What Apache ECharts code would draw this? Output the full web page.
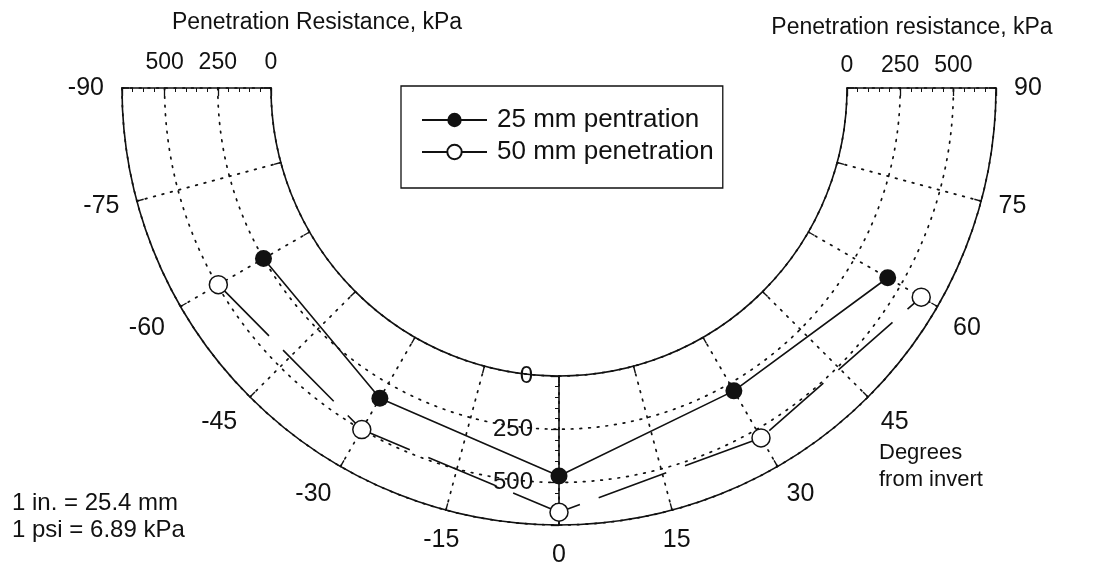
<!DOCTYPE html>
<html><head><meta charset="utf-8">
<script src="https://cdn.jsdelivr.net/npm/echarts@6/dist/echarts.min.js"></script>
<style>html,body{margin:0;padding:0;background:#fff}#c{width:1100px;height:567px}</style>
</head><body><div id="c"></div>
<script>
// ---- data ----
const angles = [-60, -30, 0, 30, 60];            // degrees from invert
const pen25 = [250, 330, 470, 290, 430];         // kPa, 25 mm penetration
const pen50 = [495, 500, 640, 545, 612];         // kPa, 50 mm penetration
const seriesNames = ['25 mm pentration', '50 mm penetration'];
const radiusTicks = [0, 250, 500];
const angleMin = -90, angleMax = 90, angleStep = 15;
const radiusMin = 0, radiusMax = 700, radiusStep = 250;

// ---- style ----
const C = [559, 88], R0 = 288, R1 = 437;
const FONT = '"Liberation Sans", Arial, sans-serif';
const INK = '#111111';
const solid = { color: INK, width: 1.6 };
const dots = { color: INK, width: 1.7, type: [1.7, 7], cap: 'round' };

const chart = echarts.init(document.getElementById('c'), null, { renderer: 'canvas' });

const baseAngle = { min: angleMin, max: angleMax, interval: angleStep, startAngle: 180, endAngle: 360, clockwise: false };
const hiddenAngle = (start) => ({ show: false, min: 0, max: 360, startAngle: start });
const edgeRadius = (idx, flip) => ({
  polarIndex: idx, min: radiusMin, max: radiusMax, interval: radiusStep,
  axisLine: { show: true, lineStyle: solid },
  axisTick: { show: true, length: flip ? -8 : 8, lineStyle: { color: INK, width: 1.3 } },
  minorTick: { show: true, splitNumber: 5, length: flip ? -4 : 4, lineStyle: { color: INK, width: 1 } },
  axisLabel: { show: false },
  splitLine: { show: false }
});

const labelSeries = (angle, pos, dist, size) => ({
  type: 'scatter', coordinateSystem: 'polar', polarIndex: 0, silent: true,
  symbolSize: 0, z: 20,
  itemStyle: { opacity: 1 },
  data: radiusTicks.map(v => [v, angle]),
  label: { show: true, position: pos, distance: dist, formatter: p => String(p.value[0]),
           fontSize: size, color: INK, opacity: 1, fontFamily: FONT }
});

chart.setOption({
  animation: false,
  backgroundColor: '#fff',
  polar: [
    { center: C, radius: [R0, R1] },
    { center: C, radius: [R0, R1] },
    { center: C, radius: [R0, R1] },
    { center: C, radius: [0, R1] },
    { center: C, radius: [0, R0] }
  ],
  angleAxis: [
    Object.assign({ polarIndex: 0 }, baseAngle, {
      axisLine: { show: false }, axisTick: { show: false }, axisLabel: { show: false },
      splitLine: { show: true, lineStyle: dots }
    }),
    Object.assign({ polarIndex: 1 }, hiddenAngle(0)),
    Object.assign({ polarIndex: 2 }, hiddenAngle(270)),
    Object.assign({ polarIndex: 3 }, baseAngle, {
      axisLine: { show: true, lineStyle: solid },
      axisTick: { show: true, inside: true, length: 7, lineStyle: { color: INK, width: 1.4 } },
      axisLabel: { show: true, margin: 18, fontSize: 25, color: INK, fontFamily: FONT },
      splitLine: { show: false }
    }),
    Object.assign({ polarIndex: 4 }, baseAngle, {
      axisLine: { show: true, lineStyle: solid },
      axisTick: { show: true, inside: false, length: 7, lineStyle: { color: INK, width: 1.4 } },
      axisLabel: { show: false },
      splitLine: { show: false }
    })
  ],
  radiusAxis: [
    Object.assign(edgeRadius(0, false), { splitLine: { show: true, lineStyle: dots } }),
    edgeRadius(1, true),
    edgeRadius(2, true),
    { polarIndex: 3, show: false, min: 0, max: 1 },
    { polarIndex: 4, show: false, min: 0, max: 1 }
  ],
  legend: {
    orient: 'vertical', left: 401, top: 86, data: seriesNames,
    itemWidth: 65, itemHeight: 18, itemGap: 6,
    padding: [21, 9, 23, 20],
    borderColor: INK, borderWidth: 1.3, borderRadius: 0,
    textStyle: { fontSize: 26, color: INK, fontFamily: FONT, padding: [0, 0, 0, 5] }
  },
  series: [
    {
      type: 'line', name: seriesNames[0], coordinateSystem: 'polar', polarIndex: 0, z: 10,
      data: angles.map((a, i) => [pen25[i], a]),
      symbol: 'circle', symbolSize: 17,
      lineStyle: { color: INK, width: 1.6 },
      itemStyle: { color: INK }
    },
    {
      type: 'line', name: seriesNames[1], coordinateSystem: 'polar', polarIndex: 0, z: 10,
      data: angles.map((a, i) => [pen50[i], a]),
      symbol: 'circle', symbolSize: 18,
      lineStyle: { color: INK, width: 1.6, type: [72, 20] },
      itemStyle: { color: '#fff', borderColor: INK, borderWidth: 1.5 }
    },
    labelSeries(-90, 'top', 14, 23),
    labelSeries(90, 'top', 11, 23),
    labelSeries(0, 'left', 26, 24)
  ],
  graphic: [
    { type: 'text', x: 317, y: 23, style: { text: 'Penetration Resistance, kPa', font: '23px ' + FONT, fill: INK, align: 'center', verticalAlign: 'middle' } },
    { type: 'text', x: 912, y: 28, style: { text: 'Penetration resistance, kPa', font: '23px ' + FONT, fill: INK, align: 'center', verticalAlign: 'middle' } },
    { type: 'text', x: 879, y: 453, style: { text: 'Degrees', font: '22px ' + FONT, fill: INK, align: 'left', verticalAlign: 'middle' } },
    { type: 'text', x: 879, y: 480, style: { text: 'from invert', font: '22px ' + FONT, fill: INK, align: 'left', verticalAlign: 'middle' } },
    { type: 'text', x: 12, y: 503, style: { text: '1 in. = 25.4 mm', font: '24px ' + FONT, fill: INK, align: 'left', verticalAlign: 'middle' } },
    { type: 'text', x: 12, y: 530, style: { text: '1 psi = 6.89 kPa', font: '24px ' + FONT, fill: INK, align: 'left', verticalAlign: 'middle' } }
  ]
});
</script></body></html>
